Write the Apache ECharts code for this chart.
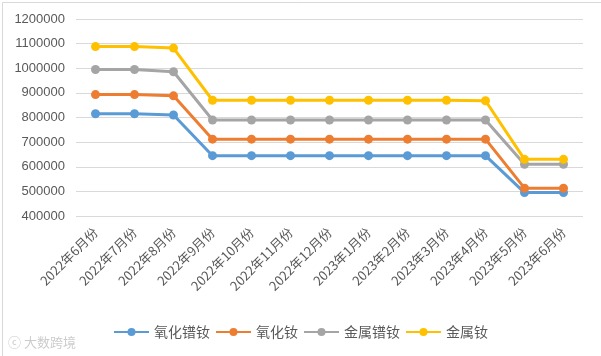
<!DOCTYPE html>
<html><head><meta charset="utf-8">
<script src="https://cdn.jsdelivr.net/npm/echarts@6/dist/echarts.min.js"></script>
<style>html,body{margin:0;padding:0;background:#fff}#c{width:601px;height:356px}</style>
</head><body><div id="c"></div>
<script>
const categories = ['2022年6月份','2022年7月份','2022年8月份','2022年9月份','2022年10月份','2022年11月份','2022年12月份','2023年1月份','2023年2月份','2023年3月份','2023年4月份','2023年5月份','2023年6月份'];
const seriesNames = ['氧化镨钕','氧化钕','金属镨钕','金属钕'];
const oxidePrNd = [815000,815000,810000,645000,645000,645000,645000,645000,645000,645000,645000,495000,495000];
const oxideNd   = [893000,893000,888000,712000,712000,712000,712000,712000,712000,712000,712000,513000,513000];
const metalPrNd = [995000,995000,986000,790000,790000,790000,790000,790000,790000,790000,790000,610000,610000];
const metalNd   = [1088000,1088000,1082000,870000,870000,870000,870000,870000,870000,870000,868000,630000,630000];
const colors = ['#5B9BD5','#ED7D31','#A5A5A5','#FFC000'];
const yMin = 400000, yMax = 1200000, yStep = 100000;

const chart = echarts.init(document.getElementById('c'));
const data = [oxidePrNd, oxideNd, metalPrNd, metalNd];
chart.setOption({
  animation: false,
  color: colors,
  textStyle: {fontFamily: '"Noto Sans CJK SC", "Noto Sans", sans-serif'},
  grid: {left: 76, right: 18, top: 19, bottom: 140, containLabel: false},
  legend: {
    data: seriesNames, left: 108, top: 320, itemWidth: 35, itemHeight: 10, itemGap: 5,
    textStyle: {fontSize: 14, color: '#595959'}
  },
  xAxis: {
    type: 'category', data: categories, boundaryGap: true,
    axisLine: {show: false}, axisTick: {show: false},
    axisLabel: {rotate: 45, fontSize: 13, color: '#595959', margin: 14, padding: [14, 0, 0, 0], interval: 0}
  },
  yAxis: {
    type: 'value', min: yMin, max: yMax, interval: yStep,
    axisLine: {show: false}, axisTick: {show: false},
    axisLabel: {fontSize: 13, color: '#595959', margin: 11, fontFamily: '"Liberation Sans", Arial, sans-serif', formatter: v => String(v)},
    splitLine: {lineStyle: {color: '#D9D9D9', width: 1}}
  },
  series: seriesNames.map((n, i) => ({
    name: n, type: 'line', data: data[i], symbol: 'circle', symbolSize: 9,
    lineStyle: {width: 3}, itemStyle: {color: colors[i]}
  })),
  graphic: [
    {type: 'rect', left: 0, top: 0, shape: {width: 600, height: 355}, style: {fill: 'none', stroke: '#D9D9D9', lineWidth: 1}},
    {type: 'text', left: 8, top: 336, style: {text: 'ⓒ 大数跨境', fill: '#CCCCCC', fontSize: 13, fontFamily: '"Noto Sans CJK SC"'}}
  ]
});
</script></body></html>
